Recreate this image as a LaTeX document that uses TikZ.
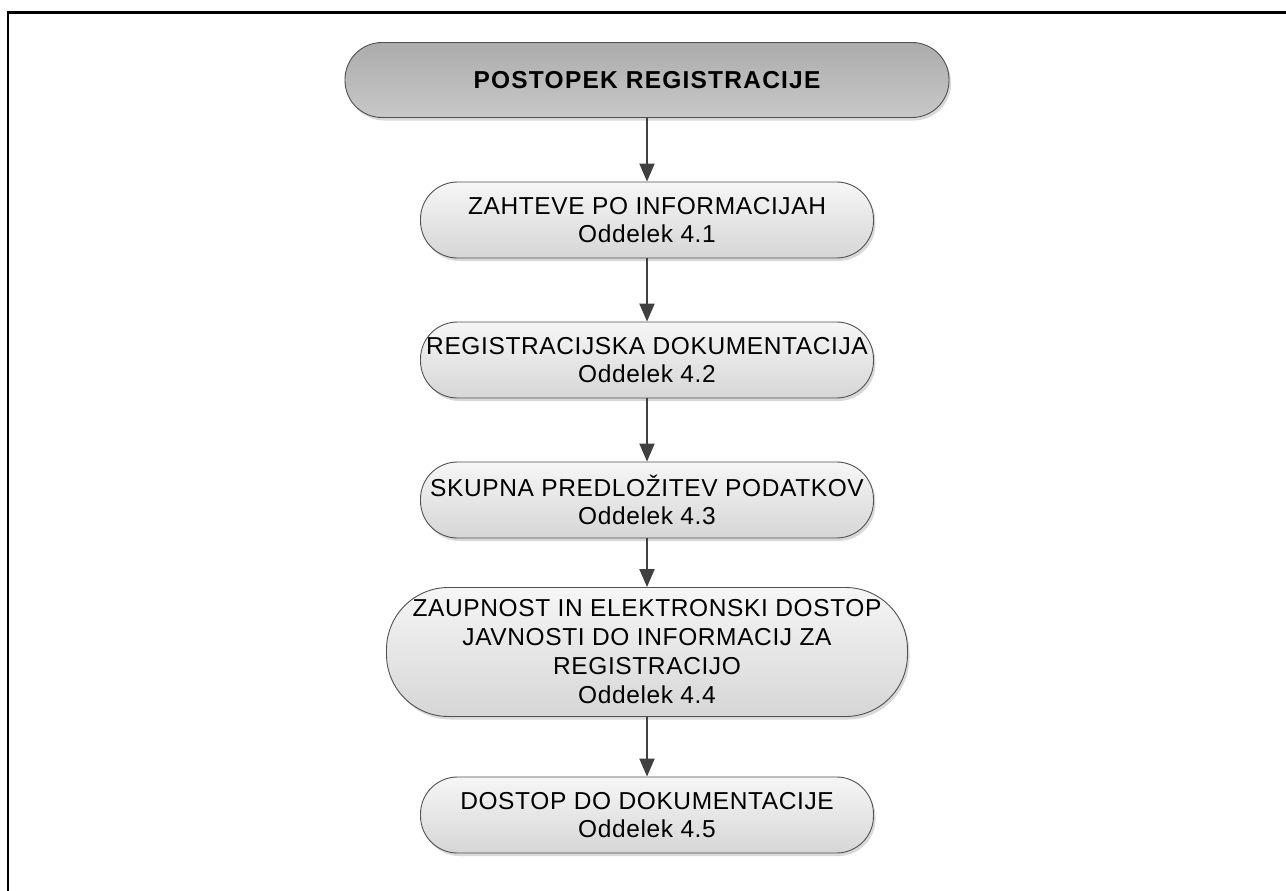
\documentclass[tikz,border=0pt]{standalone}
\usepackage{fontspec}
\setmainfont{Liberation Sans}[LetterSpace=2.5]
\usetikzlibrary{arrows.meta,shadows}

\definecolor{boxline}{RGB}{80,80,80}
\definecolor{boxtop}{RGB}{246,246,246}
\definecolor{boxbot}{RGB}{214,214,214}
\definecolor{headtop}{RGB}{172,172,172}
\definecolor{headbot}{RGB}{200,200,200}
\definecolor{flow}{RGB}{64,64,64}

\tikzset{
  stepbox/.style={draw=boxline, line width=0.9pt, top color=boxtop, bottom color=boxbot,
    align=center, inner sep=0pt, text=black,
    font=\fontsize{24.5}{27.5}\selectfont,
    minimum width=453pt, minimum height=76pt, rounded corners=37pt,
    drop shadow={shadow xshift=2pt, shadow yshift=-3pt, opacity=0.3, fill=black!50}},
  headbox/.style={stepbox, top color=headtop, bottom color=headbot,
    font=\fontsize{24.5}{27.5}\selectfont\bfseries\addfontfeature{LetterSpace=5},
    minimum width=604pt, minimum height=75pt},
  bigbox/.style={stepbox, font=\fontsize{24.5}{29}\selectfont,
    minimum width=521pt, minimum height=129pt, rounded corners=62pt},
  flowarrow/.style={draw=flow, line width=2pt, -{Triangle[length=18pt,width=15pt]}},
  frameline/.style={draw=black, line width=2.7pt}
}

\begin{document}
\begin{tikzpicture}[x=1pt, y=-1pt]
  \useasboundingbox (0,0) rectangle (1286,891);
  \clip (0,0) rectangle (1286,891);

  % outer frame, open past the right and bottom edges
  \draw[frameline] (8,12.5) rectangle (1320,930);

  % process steps
  \node[headbox] (head) at (647,80) {POSTOPEK REGISTRACIJE};
  \node[stepbox] (s1) at (647,220) {ZAHTEVE PO INFORMACIJAH\\Oddelek 4.1};
  \node[stepbox] (s2) at (647,360) {REGISTRACIJSKA DOKUMENTACIJA\\Oddelek 4.2};
  \node[stepbox] (s3) at (647,500) {SKUPNA PREDLOŽITEV PODATKOV\\Oddelek 4.3};
  \node[bigbox]  (s4) at (647,652) {ZAUPNOST IN ELEKTRONSKI DOSTOP\\JAVNOSTI DO INFORMACIJ ZA\\REGISTRACIJO\\Oddelek 4.4};
  \node[stepbox] (s5) at (647,815) {DOSTOP DO DOKUMENTACIJE\\Oddelek 4.5};

  % connectors
  \draw[flowarrow] (head.south) -- (s1.north);
  \draw[flowarrow] (s1.south) -- (s2.north);
  \draw[flowarrow] (s2.south) -- (s3.north);
  \draw[flowarrow] (s3.south) -- (s4.north);
  \draw[flowarrow] (s4.south) -- (s5.north);
\end{tikzpicture}
\end{document}
